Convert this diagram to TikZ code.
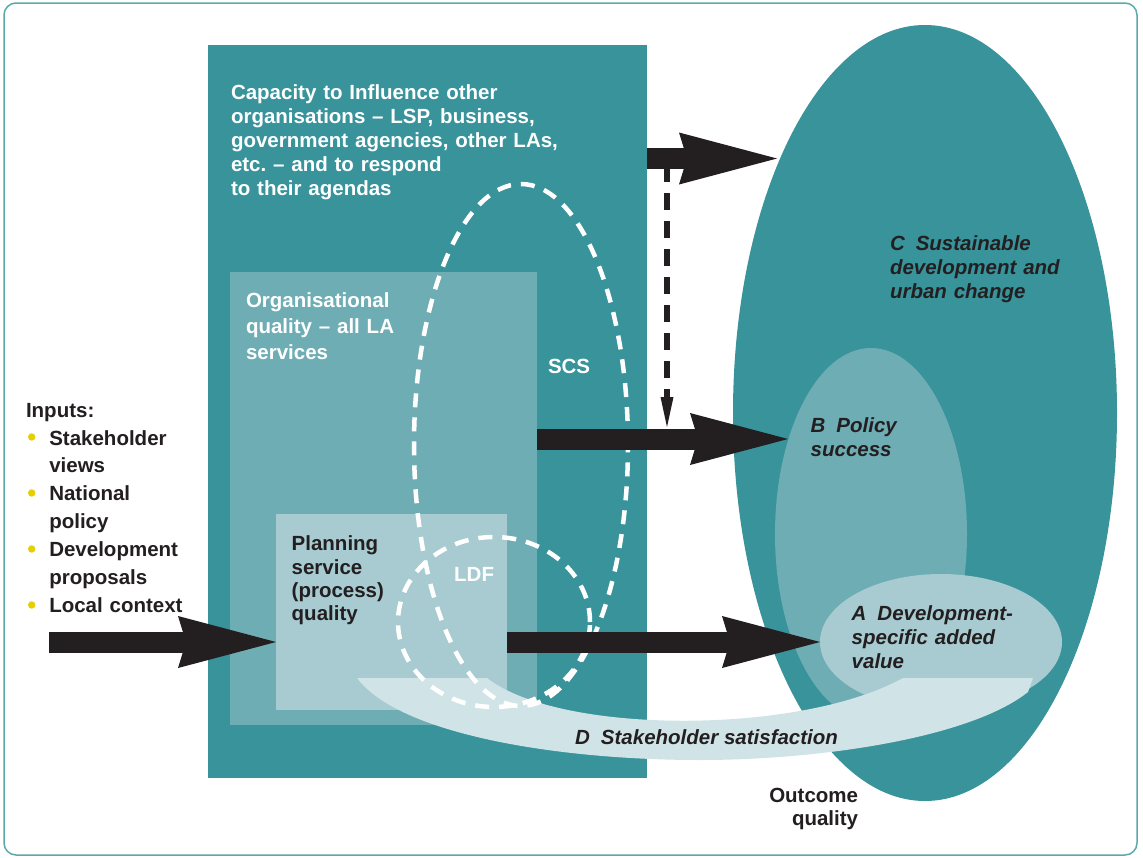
\documentclass[tikz,border=0pt]{standalone}
\usepackage{fontspec}
\setmainfont{Liberation Sans}
\usetikzlibrary{arrows.meta,shapes.geometric}
\definecolor{tealA}{HTML}{38939B}
\definecolor{tealB}{HTML}{6FADB4}
\definecolor{tealC}{HTML}{A7CBD1}
\definecolor{bandcol}{HTML}{D0E4E8}
\definecolor{ink}{HTML}{231F20}
\definecolor{bulletcol}{HTML}{E6CF00}
\definecolor{framecol}{HTML}{5AAAAD}
\frenchspacing
\begin{document}
\begin{tikzpicture}[x=1pt,y=-1pt,
  box/.style={rectangle, inner sep=0pt, outer sep=0pt, draw=none, anchor=north west},
  oval/.style={ellipse, inner sep=0pt, outer sep=0pt, draw=none},
  dashoval/.style={ellipse, inner sep=0pt, outer sep=0pt, draw=white, line width=4.5pt, dash pattern=on 14pt off 10pt},
  lbl/.style={anchor=base west, inner sep=0pt, outer sep=0pt, align=left, text width=#1, font=\bfseries\fontsize{20.5}{24}\selectfont},
  ilbl/.style={lbl=#1, font=\bfseries\itshape\fontsize{20.5}{24}\selectfont, text=ink},
  fat/.style={color=ink, line width=21pt, -{Stealth[length=98pt, width=52pt, inset=8pt, line width=0pt]}},
  bulletdot/.style={circle, fill=bulletcol, minimum size=7.4pt, inner sep=0pt}
]
\useasboundingbox (0,0) rectangle (1143,857);
\fill[white] (0,0) rectangle (1143,857);
\draw[framecol, line width=1.5pt, rounded corners=12pt] (4,3) rectangle (1137,855);

% boxes
\node[box, fill=tealA, minimum width=439pt, minimum height=733pt] (big) at (208,45) {};
\node[box, fill=tealB, minimum width=307pt, minimum height=453pt] (org) at (230,272) {};
\node[box, fill=tealC, minimum width=231pt, minimum height=196pt] (plan) at (276,514) {};

% outcome ellipses
\node[oval, fill=tealA, minimum width=384pt, minimum height=776pt] (C) at (925,413) {};
\node[oval, fill=tealB, minimum width=192pt, minimum height=372pt] (B) at (871,534) {};
\node[oval, fill=tealC, minimum width=242pt, minimum height=136pt] (A) at (941,642) {};

% stakeholder satisfaction band
\fill[bandcol] (357,678) -- (487,678) .. controls (560,735) and (800,735) .. (903,678)
  -- (1033,678) -- (1028,692) .. controls (970,738) and (820,760) .. (700,760)
  .. controls (560,760) and (400,735) .. (357,678) -- cycle;

% dashed ellipses
\node[dashoval, minimum width=214pt, minimum height=522pt] (scs) at (521,445) {};
\node[dashoval, minimum width=192pt, minimum height=170pt] (ldf) at (494,622) {};

% arrows
\coordinate (a1e) at (777,158.5);
\coordinate (a2e) at (788,439);
\coordinate (a4s) at (49,642);
\coordinate (dtop) at (667,169);
\coordinate (dbot) at (667,427);
\draw[fat] (big.east |- a1e) -- (a1e);
\draw[fat] (org.east |- a2e) -- (a2e);
\draw[fat] (plan.east |- A.west) -- (A.west);
\draw[fat] (a4s) -- (plan.west |- a4s);
\draw[ink, line width=6pt, dash pattern=on 17pt off 11pt, dash phase=4pt,
  -{Triangle[length=30pt, width=13pt, line width=0pt]}] (dtop) -- (dbot);

% texts
\node[lbl=340pt, text=white] (captxt) at (231,99.5) {Capacity to Influence other\\organisations – LSP, business,\\government agencies, other LAs,\\etc. – and to respond\\to their agendas};
\node[lbl=300pt, text=white, font=\bfseries\fontsize{20.5}{26}\selectfont] (orgtxt) at (246,307.7) {Organisational\\quality – all LA\\services};
\node[lbl=80pt, text=white] (scstxt) at (548,373) {SCS};
\node[anchor=base west, inner sep=0pt, text=white, font=\bfseries\fontsize{20.5}{24}\selectfont] (ldftxt) at (454,581.7) {LDF};
\node[lbl=200pt, text=ink, font=\bfseries\fontsize{20.5}{23.4}\selectfont] (plantxt) at (291.7,550.7) {Planning\\service\\(process)\\quality};
\node[lbl=200pt, text=ink] (inptxt) at (26,417.3) {Inputs:};
\node[lbl=200pt, text=ink, font=\bfseries\fontsize{20.5}{27.95}\selectfont] (inplist) at (49.3,445) {Stakeholder\\views\\National\\policy\\Development\\proposals\\Local context};
\node[bulletdot] (b1) at (31.7,437) {};
\node[bulletdot] (b2) at (31.7,493) {};
\node[bulletdot] (b3) at (31.7,549) {};
\node[bulletdot] (b4) at (31.7,605) {};
\node[ilbl=250pt] (ctxt) at (890,250) {C\kern11pt Sustainable\\development and\\urban change};
\node[ilbl=200pt] (btxt) at (810.7,432.3) {B\kern11pt Policy\\success};
\node[ilbl=220pt] (atxt) at (851.7,620.7) {A\kern11pt Development-\\specific added\\value};
\node[anchor=base west, inner sep=0pt, text=ink, font=\bfseries\itshape\fontsize{20.5}{24}\selectfont] (dtxt) at (575,744.3) {D\kern11pt Stakeholder satisfaction};
\node[anchor=base east, inner sep=0pt, align=right, text width=140pt, text=ink, font=\bfseries\fontsize{20.5}{23}\selectfont] (outtxt) at (858.3,802.3) {Outcome\\quality};
\end{tikzpicture}
\end{document}
